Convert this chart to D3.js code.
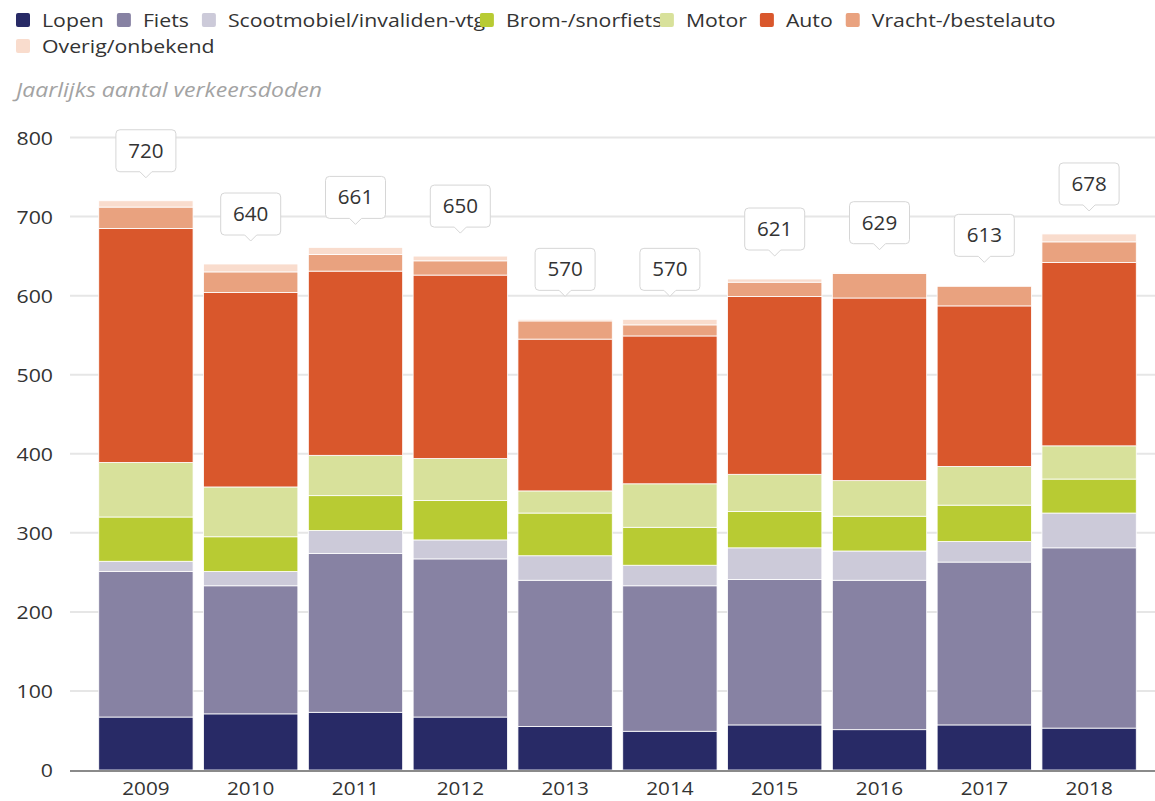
<!DOCTYPE html>
<html>
<head>
<meta charset="utf-8">
<script src="https://cdnjs.cloudflare.com/ajax/libs/d3/7.8.5/d3.min.js"></script>
<style>
  body { margin: 0; background: #fff; }
  text { font-family: "Open Sans", sans-serif; }
</style>
</head>
<body>
<script>
var years = ['2009', '2010', '2011', '2012', '2013', '2014', '2015', '2016', '2017', '2018'];

var lopen  = [67, 71, 73, 67, 55, 49, 57, 51, 57, 53];
var fiets  = [184, 162, 201, 200, 185, 184, 184, 189, 206, 228];
var scoot  = [13, 18, 29, 24, 31, 26, 40, 37, 26, 44];
var brom   = [56, 44, 44, 50, 54, 48, 46, 44, 46, 43];
var motor  = [69, 63, 51, 53, 28, 55, 47, 45, 49, 42];
var auto   = [296, 246, 233, 232, 192, 187, 225, 231, 203, 232];
var vracht = [27, 26, 21, 18, 23, 14, 18, 31, 25, 26];
var overig = [8, 10, 9, 6, 2, 7, 4, 1, 1, 10];

var seriesNames = ['Lopen', 'Fiets', 'Scootmobiel/invaliden-vtg', 'Brom-/snorfiets', 'Motor', 'Auto', 'Vracht-/bestelauto', 'Overig/onbekend'];
var seriesColors = ['#282a66', '#8782a3', '#cccad9', '#b8cb33', '#d8e19b', '#d9572c', '#e9a27f', '#f9dccd'];
var yTicks = [0, 100, 200, 300, 400, 500, 600, 700, 800];
var subtitle = 'Jaarlijks aantal verkeersdoden';

var allSeries = [lopen, fiets, scoot, brom, motor, auto, vracht, overig];

// the source font runs a bit wide, so text gets stretched horizontally
var textStretch = 1.12;

// one row per year, keyed by series name
var rows = years.map(function(y, i) {
  var r = { year: y };
  seriesNames.forEach(function(name, s) { r[name] = allSeries[s][i]; });
  return r;
});

var stacked = d3.stack().keys(seriesNames)(rows);

var svg = d3.select('body')
  .append('svg')
  .attr('width', 1155)
  .attr('height', 801);

var x = d3.scaleBand()
  .domain(years)
  .range([93.5, 1141.5])
  .paddingInner(0.1)
  .paddingOuter(0.05);

var y = d3.scaleLinear()
  .domain([0, 800])
  .range([770, 137.5]);

// grid
svg.append('g')
  .selectAll('line')
  .data(yTicks.slice(1))
  .enter()
  .append('line')
  .attr('x1', 70)
  .attr('x2', 1155)
  .attr('y1', function(d) { return y(d); })
  .attr('y2', function(d) { return y(d); })
  .style('stroke', '#e6e6e6')
  .style('stroke-width', 2);

var yAxis = svg.append('g')
  .attr('transform', 'translate(53,0)')
  .call(d3.axisLeft(y).tickValues(yTicks).tickSize(0).tickPadding(0));
yAxis.select('.domain').remove();
yAxis.selectAll('text')
  .attr('dy', '0.36em')
  .attr('transform', 'scale(' + textStretch + ',1)')
  .style('font-family', '"Open Sans", sans-serif')
  .style('font-size', '19px')
  .style('fill', '#333');

// bars
svg.append('g')
  .selectAll('g')
  .data(stacked)
  .enter()
  .append('g')
  .attr('fill', function(d, i) { return seriesColors[i]; })
  .selectAll('rect')
  .data(function(d) { return d; })
  .enter()
  .append('rect')
  .attr('x', function(d) { return x(d.data.year); })
  .attr('width', x.bandwidth())
  .attr('y', function(d) { return y(d[1]); })
  .attr('height', function(d) { return y(d[0]) - y(d[1]); })
  .style('stroke', '#fff')
  .style('stroke-width', 0.8);

// baseline
svg.append('line')
  .attr('x1', 70)
  .attr('x2', 1155)
  .attr('y1', y(0) + 1)
  .attr('y2', y(0) + 1)
  .style('stroke', '#8a8a8a')
  .style('stroke-width', 2);

var xAxis = svg.append('g')
  .attr('transform', 'translate(0,' + y(0) + ')')
  .call(d3.axisBottom(x).tickSize(0).tickPadding(0));
xAxis.select('.domain').remove();
xAxis.selectAll('text')
  .attr('dy', 0)
  .attr('y', 25)
  .attr('transform', 'scale(' + textStretch + ',1)')
  .style('font-family', '"Open Sans", sans-serif')
  .style('font-size', '18.5px')
  .style('fill', '#333');

// total callouts
var totals = rows.map(function(r) {
  return { year: r.year, total: d3.sum(seriesNames, function(n) { return r[n]; }) };
});

var callouts = svg.append('g')
  .selectAll('g')
  .data(totals)
  .enter()
  .append('g')
  .attr('transform', function(d) {
    return 'translate(' + (x(d.year) + x.bandwidth() / 2) + ',' + (y(d.total) - 23) + ')';
  });

callouts.append('path')
  .attr('d', function() {
    var w = 60, h = 42, p = 6, r = 4, hw = w / 2;
    return 'M' + (-hw + r) + ',' + (-p - h) +
      'H' + (hw - r) + 'Q' + hw + ',' + (-p - h) + ' ' + hw + ',' + (-p - h + r) +
      'V' + (-p - r) + 'Q' + hw + ',' + (-p) + ' ' + (hw - r) + ',' + (-p) +
      'H6L0,0L-6,' + (-p) +
      'H' + (-hw + r) + 'Q' + (-hw) + ',' + (-p) + ' ' + (-hw) + ',' + (-p - r) +
      'V' + (-p - h + r) + 'Q' + (-hw) + ',' + (-p - h) + ' ' + (-hw + r) + ',' + (-p - h) + 'Z';
  })
  .style('fill', '#fff')
  .style('stroke', '#d6d6d6')
  .style('stroke-width', 1);

callouts.append('text')
  .attr('text-anchor', 'middle')
  .attr('transform', 'translate(0,-20) scale(1.03,1)')
  .style('font-size', '20px')
  .style('fill', '#333')
  .text(function(d) { return d.total; });

// legend - two long labels get cut short, next symbol overlaps them
var legendClip = [null, null, 239, 141, null, null, null, null];
var lx = 16, ly = 13;
var legend = svg.append('g');
seriesNames.forEach(function(name, i) {
  var item = legend.append('g');
  var t = item.append('text')
    .attr('transform', 'translate(26,14) scale(' + textStretch + ',1)')
    .style('font-size', '19px')
    .style('fill', '#333')
    .text(name);
  var w = t.node().getComputedTextLength() * textStretch;
  if (legendClip[i] && w > legendClip[i]) w = legendClip[i];
  if (lx + 26 + w > 1150) { lx = 16; ly += 26; }
  item.attr('transform', 'translate(' + lx + ',' + ly + ')');
  item.datum({ x: lx, y: ly });
  lx += 26 + w + 13;
});
// squares drawn last so they sit over clipped text
legend.selectAll('g').each(function(d, i) {
  legend.append('rect')
    .attr('x', d.x)
    .attr('y', d.y)
    .attr('width', 14)
    .attr('height', 14)
    .attr('rx', 2)
    .attr('fill', seriesColors[i]);
});

svg.append('text')
  .attr('transform', 'translate(16,97) scale(1.15,1)')
  .style('font-size', '20px')
  .style('font-style', 'italic')
  .style('fill', '#a3a3a3')
  .text(subtitle);
</script>
</body>
</html>
